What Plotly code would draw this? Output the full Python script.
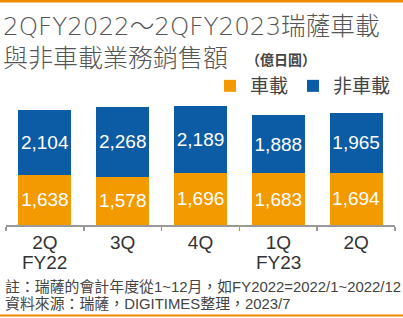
import plotly.graph_objects as go

quarter_labels = ["2Q", "3Q", "4Q", "1Q", "2Q"]
year_labels = ["FY22", "", "", "FY23", ""]
categories = ["2Q FY22", "3Q FY22", "4Q FY22", "1Q FY23", "2Q FY23"]
auto_vals = [1638, 1578, 1696, 1683, 1694]
non_auto_vals = [2104, 2268, 2189, 1888, 1965]
series_names = ["車載", "非車載"]
title_line1 = "2QFY2022～2QFY2023瑞薩車載"
title_line2 = "與非車載業務銷售額"
unit_text = "（億日圓）"
note_lines = ["註：瑞薩的會計年度從1~12月，如FY2022=2022/1~2022/12",
              "資料來源：瑞薩，DIGITIMES整理，2023/7"]

W, H = 403, 318
ML, MR, MT, MB = 6, 8, 100, 93
PW, PH = W - ML - MR, H - MT - MB

def xp(px):
    return (px - ML) / PW

def yp(py):
    return (H - MB - py) / PH

ORANGE = "#F39A00"
BLUE = "#0B5CA4"
LINE_OR = "#F08A00"
CJK = "Noto Sans CJK TC"
LAT = "Liberation Sans, Noto Sans CJK TC"

fig = go.Figure()
for name, vals, col in [(series_names[0], auto_vals, ORANGE), (series_names[1], non_auto_vals, BLUE)]:
    fig.add_trace(go.Bar(
        x=categories, y=vals, name=name, marker=dict(color=col, line=dict(width=0)),
        texttemplate="%{y:,}", textposition="inside", insidetextanchor="middle",
        textangle=0, constraintext="none",
        textfont=dict(family=LAT, size=19, color="white"),
        hoverinfo="skip",
    ))

fig.update_layout(
    width=W, height=H, margin=dict(l=ML, r=MR, t=MT, b=MB, pad=0),
    barmode="stack", bargap=0.32,
    paper_bgcolor="white", plot_bgcolor="white",
    showlegend=True,
    legend=dict(orientation="h", x=xp(396), xanchor="right", y=yp(67), yanchor="top",
                traceorder="normal", font=dict(family=CJK, size=19, color="#444"),
                bgcolor="rgba(0,0,0,0)", itemclick=False),
    xaxis=dict(type="category", showline=True, linecolor="#999", linewidth=1.5,
               tickmode="array", tickvals=categories, ticktext=quarter_labels,
               ticks="outside", tickson="boundaries", ticklen=4, tickcolor="#999", tickwidth=1.5,
               tickfont=dict(family=LAT, size=19, color="#333"), showgrid=False, fixedrange=True),
    yaxis=dict(range=[0, 4070], visible=False, showgrid=False, fixedrange=True),
    font=dict(family=LAT),
)

anns = [
    dict(text=title_line1, x=xp(1), y=yp(26.5), xanchor="left", yanchor="middle", xref="paper",
         font=dict(family="DejaVu Sans, Noto Sans CJK TC", size=24.6, color="#555", weight=300)),
    dict(text=title_line2, x=xp(1), y=yp(56), xanchor="left", yanchor="middle", xref="paper",
         font=dict(family=CJK, size=25, color="#555", weight=300)),
    dict(text="<b>" + unit_text + "</b>", x=xp(244), y=yp(59), xanchor="left", yanchor="middle", xref="paper",
         font=dict(family=CJK, size=14, color="#444")),
    dict(text=note_lines[0], x=xp(3), y=yp(287), xanchor="left", yanchor="middle", xref="paper",
         font=dict(family=LAT, size=14.9, color="#444")),
    dict(text=note_lines[1], x=xp(3), y=yp(304), xanchor="left", yanchor="middle", xref="paper",
         font=dict(family=LAT, size=14.9, color="#444")),
]
for cat, yl in zip(categories, year_labels):
    if yl:
        anns.append(dict(text=yl, x=cat, xref="x", y=yp(262), xanchor="center", yanchor="middle",
                         font=dict(family=LAT, size=19, color="#333")))
for a in anns:
    a.update(yref="paper", showarrow=False)
fig.update_layout(annotations=anns)

fig.add_shape(type="rect", xref="paper", yref="paper", x0=xp(0), x1=xp(403), y0=yp(0), y1=yp(2.5),
              fillcolor=LINE_OR, line=dict(width=0), layer="above")
fig.add_shape(type="rect", xref="paper", yref="paper", x0=xp(0), x1=xp(403), y0=yp(314.5), y1=yp(316.5),
              fillcolor=LINE_OR, line=dict(width=0), layer="above")

fig.write_html("out.html", config={"displayModeBar": False, "staticPlot": True})
